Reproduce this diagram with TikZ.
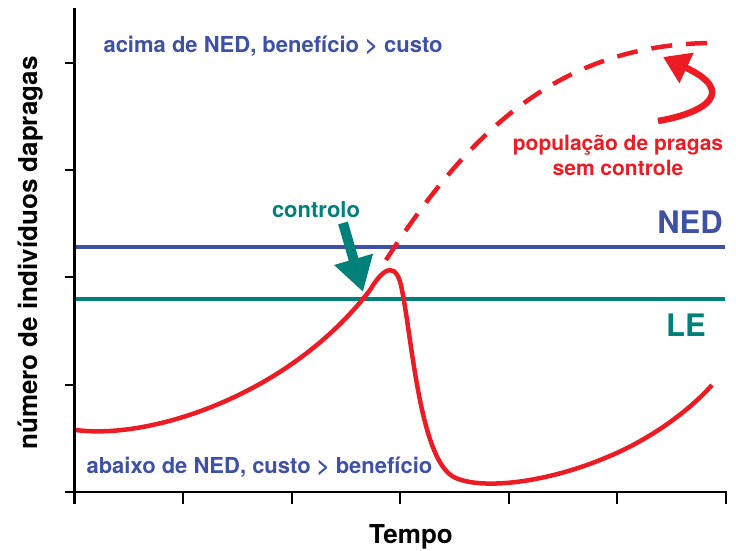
\documentclass[tikz,border=0pt]{standalone}
\usepackage{fontspec}
\setmainfont{TeX Gyre Heros}
\usetikzlibrary{arrows.meta}
\definecolor{nedblue}{RGB}{63,81,165}
\definecolor{leteal}{RGB}{0,128,122}
\definecolor{pestred}{RGB}{237,28,36}

\begin{document}
\begin{tikzpicture}[x=1pt,y=-1pt,
  txt/.style={font=\bfseries\fontsize{22}{25}\selectfont},
  big/.style={font=\bfseries\fontsize{31}{35}\selectfont}]
\useasboundingbox (0,0) rectangle (736,551);
% axes
\draw [line width=2.5pt] (74.3,8) -- (74.3,504);
\draw [line width=2.5pt] (65,492) -- (727,492);
\foreach \y in {385,277,170,63}
  \draw [line width=2pt] (65,\y) -- (74.3,\y);
\foreach \x in {74.3,183,291.6,400.2,508.8,617.4,726}
  \draw [line width=2pt] (\x,492) -- (\x,504);
\node (ylab) [font=\bfseries\fontsize{26}{30}\selectfont, rotate=90] at (31,253) {número de indivíduos dapragas};
\node (xlab) [font=\bfseries\fontsize{26}{30}\selectfont] at (411,537) {Tempo};
% threshold lines
\draw [nedblue, line width=4.5pt] (76,247) -- (725,247) node (ned) [big, anchor=south east, inner sep=0pt, yshift=11pt] {NED};
\draw [leteal, line width=4.5pt] (76,299) -- (725,299) node (le) [big, anchor=north east, inner sep=0pt, xshift=-17pt, yshift=-13pt] {LE};
\node (above) [txt, nedblue, anchor=west] at (100,46) {acima de NED, benefício > custo};
\node (below) [txt, nedblue, anchor=west] at (83,467) {abaixo de NED, custo > benefício};
% population curves
\draw [pestred, line width=4.5pt] (76,430) .. controls (150,440) and (290,395) .. (370,290)
  .. controls (385,265) and (397,262) .. (402,290)
  .. controls (412,340) and (420,455) .. (452,476)
  .. controls (475,490) and (540,485) .. (605,458)
  .. controls (650,440) and (690,410) .. (712,385);
\draw [pestred, line width=4.5pt, dash pattern=on 21pt off 14pt] (386,260) .. controls (470,130) and (560,45) .. (710,43);
\node (nocontrol) [font=\bfseries\fontsize{21}{25}\selectfont, pestred, align=center] at (618,155) {população de pragas\\sem controle};
\coordinate (hookstart) at (658,121);
\coordinate (hookend) at (663,57);
\draw [pestred, line width=6.5pt, -{Triangle[length=26pt, width=32pt]}] (hookstart) .. controls (705,113) and (738,92) .. (hookend);
% control action
\node (ctrl) [txt, leteal] at (316,210) {controlo};
\coordinate (ctrlhit) at (363,292);
\draw [leteal, line width=10pt, -{Triangle[length=34pt, width=38pt]}] (343,223) -- (ctrlhit);
\end{tikzpicture}
\end{document}
